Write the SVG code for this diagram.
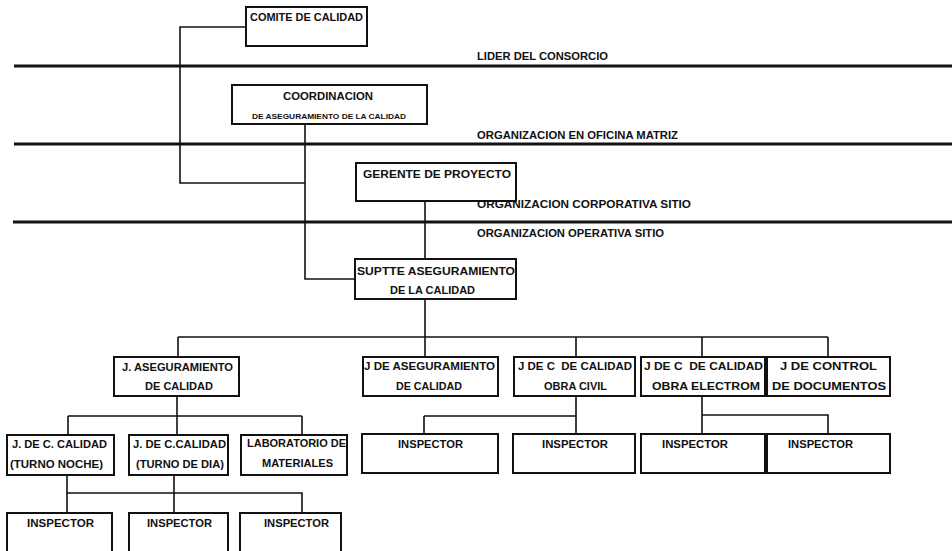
<svg xmlns="http://www.w3.org/2000/svg" width="952" height="551" viewBox="0 0 952 551">
<style>
.bg{fill:#ffffff}
.box{fill:none;stroke:#111;stroke-width:2}
.div{stroke:#111;stroke-width:3;fill:none}
.con{stroke:#111;stroke-width:1.6;fill:none}
text{font-family:"Liberation Sans",Arial,sans-serif;font-weight:bold;font-size:11px;fill:#111}
.sm{font-size:6.5px}
</style>
<rect class="bg" x="0" y="0" width="952" height="551"/>
<g id="dividers">
<path class="div" d="M14,66 H952 M14,144 H952 M13,222 H952"/>
<text x="477" y="60" textLength="131" lengthAdjust="spacingAndGlyphs">LIDER DEL CONSORCIO</text>
<text x="477" y="139" textLength="201" lengthAdjust="spacingAndGlyphs">ORGANIZACION EN OFICINA MATRIZ</text>
<text x="477" y="208" textLength="214" lengthAdjust="spacingAndGlyphs">ORGANIZACION CORPORATIVA SITIO</text>
<text x="477" y="237" textLength="187" lengthAdjust="spacingAndGlyphs">ORGANIZACION OPERATIVA SITIO</text>
</g>
<g id="connectors">
<path class="con" d="M246,27 H180 V183 H305"/>
<path class="con" d="M305,124 V279 H355"/>
<path class="con" d="M425,201 V259"/>
<path class="con" d="M425,299 V357"/>
<path class="con" d="M178,337 H828 M178,337 V357 M576,337 V357 M702,337 V357 M828,337 V357"/>
<path class="con" d="M177,396 V435 M68,416 H302 M68,416 V435 M302,416 V435"/>
<path class="con" d="M67,475 V513 M67,493 H302 V513 M174,475 V513"/>
<path class="con" d="M576,396 V434 M424,416 H576 M424,416 V434"/>
<path class="con" d="M702,396 V434 M702,415 H828 V434"/>
</g>
<g id="comite">
<rect class="box" x="246" y="7" width="121" height="39"/>
<text x="250" y="21" textLength="113" lengthAdjust="spacingAndGlyphs">COMITE DE CALIDAD</text>
</g>
<g id="coordinacion">
<rect class="box" x="232" y="85" width="195" height="39"/>
<text x="283" y="100" textLength="90" lengthAdjust="spacingAndGlyphs">COORDINACION</text>
<text class="sm" x="252" y="118.5" textLength="154" lengthAdjust="spacingAndGlyphs">DE ASEGURAMIENTO DE LA CALIDAD</text>
</g>
<g id="gerente">
<rect class="box" x="356" y="163" width="160" height="38"/>
<text x="363" y="178" textLength="148" lengthAdjust="spacingAndGlyphs">GERENTE DE PROYECTO</text>
</g>
<g id="suptte">
<rect class="box" x="355" y="259" width="161" height="40"/>
<text x="357" y="275" textLength="158" lengthAdjust="spacingAndGlyphs">SUPTTE ASEGURAMIENTO</text>
<text x="390" y="294" textLength="85" lengthAdjust="spacingAndGlyphs">DE LA CALIDAD</text>
</g>
<g id="j-aseg-1">
<rect class="box" x="114" y="357" width="125" height="39"/>
<text x="122" y="371" textLength="111" lengthAdjust="spacingAndGlyphs">J. ASEGURAMIENTO</text>
<text x="145" y="390" textLength="68" lengthAdjust="spacingAndGlyphs">DE CALIDAD</text>
</g>
<g id="j-aseg-2">
<rect class="box" x="363" y="357" width="135" height="39"/>
<text x="364" y="370" textLength="131" lengthAdjust="spacingAndGlyphs">J DE ASEGURAMIENTO</text>
<text x="396" y="390" textLength="66" lengthAdjust="spacingAndGlyphs">DE CALIDAD</text>
</g>
<g id="j-civil">
<rect class="box" x="514" y="357" width="121" height="39"/>
<text x="518" y="370" textLength="114" lengthAdjust="spacingAndGlyphs" xml:space="preserve">J DE C  DE CALIDAD</text>
<text x="544" y="390" textLength="63" lengthAdjust="spacingAndGlyphs">OBRA CIVIL</text>
</g>
<g id="j-electrom">
<rect class="box" x="641" y="357" width="124" height="39"/>
<text x="644" y="370" textLength="119" lengthAdjust="spacingAndGlyphs" xml:space="preserve">J DE C  DE CALIDAD</text>
<text x="652" y="390" textLength="108" lengthAdjust="spacingAndGlyphs">OBRA ELECTROM</text>
</g>
<g id="j-control">
<rect class="box" x="767" y="357" width="123" height="39"/>
<text x="780" y="370" textLength="97" lengthAdjust="spacingAndGlyphs">J DE CONTROL</text>
<text x="772" y="390" textLength="114" lengthAdjust="spacingAndGlyphs">DE DOCUMENTOS</text>
</g>
<g id="turno-noche">
<rect class="box" x="7" y="435" width="107" height="40"/>
<text x="12" y="448" textLength="95" lengthAdjust="spacingAndGlyphs">J. DE C. CALIDAD</text>
<text x="10" y="468" textLength="93" lengthAdjust="spacingAndGlyphs">(TURNO NOCHE)</text>
</g>
<g id="turno-dia">
<rect class="box" x="129" y="435" width="99" height="40"/>
<text x="133" y="448" textLength="93" lengthAdjust="spacingAndGlyphs">J. DE C.CALIDAD</text>
<text x="136" y="468" textLength="88" lengthAdjust="spacingAndGlyphs">(TURNO DE DIA)</text>
</g>
<g id="laboratorio">
<rect class="box" x="241" y="435" width="106" height="40"/>
<text x="247" y="447" textLength="99" lengthAdjust="spacingAndGlyphs">LABORATORIO DE</text>
<text x="262" y="467" textLength="71" lengthAdjust="spacingAndGlyphs">MATERIALES</text>
</g>
<g id="inspector-r1">
<rect class="box" x="362" y="434" width="136" height="39"/>
<text x="398" y="448" textLength="65" lengthAdjust="spacingAndGlyphs">INSPECTOR</text>
</g>
<g id="inspector-r2">
<rect class="box" x="513" y="434" width="122" height="39"/>
<text x="542" y="448" textLength="66" lengthAdjust="spacingAndGlyphs">INSPECTOR</text>
</g>
<g id="inspector-r3">
<rect class="box" x="641" y="434" width="124" height="39"/>
<text x="662" y="448" textLength="66" lengthAdjust="spacingAndGlyphs">INSPECTOR</text>
</g>
<g id="inspector-r4">
<rect class="box" x="767" y="434" width="123" height="39"/>
<text x="788" y="448" textLength="65" lengthAdjust="spacingAndGlyphs">INSPECTOR</text>
</g>
<g id="inspector-l1">
<rect class="box" x="7" y="513" width="105" height="45"/>
<text x="27" y="527" textLength="67" lengthAdjust="spacingAndGlyphs">INSPECTOR</text>
</g>
<g id="inspector-l2">
<rect class="box" x="129" y="513" width="99" height="45"/>
<text x="147" y="527" textLength="65" lengthAdjust="spacingAndGlyphs">INSPECTOR</text>
</g>
<g id="inspector-l3">
<rect class="box" x="240" y="513" width="101" height="45"/>
<text x="264" y="527" textLength="65" lengthAdjust="spacingAndGlyphs">INSPECTOR</text>
</g>
</svg>
